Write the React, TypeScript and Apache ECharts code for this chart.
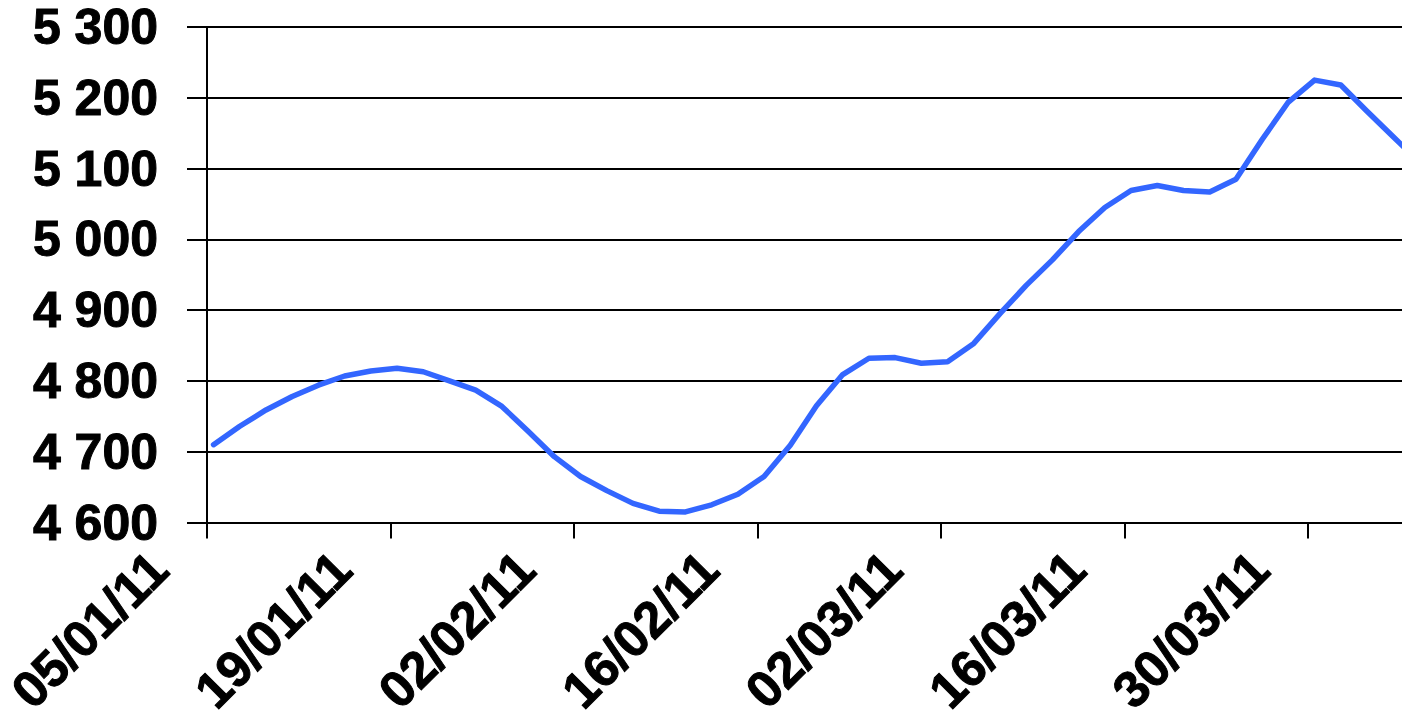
import React, { useEffect, useRef } from "react";
import * as echarts from "echarts";

const startDate = "2011-01-05";
const dates = [
  "2011-01-05", "2011-01-07", "2011-01-09", "2011-01-11", "2011-01-13", "2011-01-15",
  "2011-01-17", "2011-01-19", "2011-01-21", "2011-01-23", "2011-01-25", "2011-01-27",
  "2011-01-29", "2011-01-31", "2011-02-02", "2011-02-04", "2011-02-06", "2011-02-08",
  "2011-02-10", "2011-02-12", "2011-02-14", "2011-02-16", "2011-02-18", "2011-02-20",
  "2011-02-22", "2011-02-24", "2011-02-26", "2011-02-28", "2011-03-02", "2011-03-04",
  "2011-03-06", "2011-03-08", "2011-03-10", "2011-03-12", "2011-03-14", "2011-03-16",
  "2011-03-18", "2011-03-20", "2011-03-22", "2011-03-24", "2011-03-26", "2011-03-28",
  "2011-03-30", "2011-04-01", "2011-04-03", "2011-04-05", "2011-04-06",
];
const values = [
  4710, 4736, 4759, 4778, 4794, 4807,
  4814, 4818, 4813, 4800, 4787, 4764,
  4729, 4693, 4665, 4645, 4627, 4616,
  4615, 4625, 4640, 4665, 4709, 4765,
  4809, 4832, 4833, 4825, 4827, 4853,
  4895, 4935, 4971, 5011, 5045, 5069,
  5076, 5069, 5067, 5085, 5141, 5194,
  5225, 5218, 5181, 5145, 5127,
];
const yMin = 4600;
const yMax = 5300;
const yStep = 100;
const xTickDays = 14;
const xMaxDays = 91.17;

const DAY = 86400000;
const t0 = Date.parse(startDate + "T00:00:00Z");
const dayOffset = (d: string) => (Date.parse(d + "T00:00:00Z") - t0) / DAY + 0.5;
const pad2 = (n: number) => (n < 10 ? "0" + n : "" + n);
const fmtDate = (off: number) => {
  const dt = new Date(t0 + Math.round(off) * DAY);
  return pad2(dt.getUTCDate()) + "/" + pad2(dt.getUTCMonth() + 1) + "/" + pad2(dt.getUTCFullYear() % 100);
};
const fmtNum = (v: number) => {
  const s = String(Math.round(v));
  return s.replace(/\B(?=(\d{3})+(?!\d))/g, " ");
};

const FONT = "'Liberation Sans', Arial, Helvetica, sans-serif";

export default function App() {
  const ref = useRef<HTMLDivElement>(null);
  useEffect(() => {
    if (!ref.current) return;
    const chart = echarts.init(ref.current, null, { renderer: "svg" });
    chart.setOption({
      animation: false,
      backgroundColor: "#ffffff",
      grid: {
        left: 207,
        right: 0,
        top: 27,
        bottom: 198.5,
        containLabel: false,
        outerBoundsMode: "none",
      },
      xAxis: {
        type: "value",
        min: 0,
        max: xMaxDays,
        interval: xTickDays,
        splitLine: { show: false },
        axisLine: { show: true, onZero: false, lineStyle: { color: "#000", width: 2 } },
        axisTick: { show: true, length: 16, lineStyle: { color: "#000", width: 2 } },
        axisLabel: {
          show: true,
          rotate: 45,
          margin: -10,
          padding: [0, 68, 0, 0],
          showMaxLabel: false,
          hideOverlap: false,
          color: "#000",
          fontFamily: FONT,
          fontWeight: "bold",
          fontSize: 51,
          textBorderColor: "#000",
          textBorderWidth: 1,
          formatter: (v: number) => (Math.abs(v % xTickDays) < 1e-6 ? fmtDate(v) : ""),
        },
      },
      yAxis: {
        type: "value",
        min: yMin,
        max: yMax,
        interval: yStep,
        axisLine: { show: true, lineStyle: { color: "#000", width: 2 } },
        axisTick: { show: true, length: 20, lineStyle: { color: "#000", width: 2 } },
        splitLine: { show: true, lineStyle: { color: "#000", width: 2 } },
        axisLabel: {
          margin: 49,
          color: "#000",
          fontFamily: FONT,
          fontWeight: "bold",
          fontSize: 50,
          textBorderColor: "#000",
          textBorderWidth: 1,
          formatter: (v: number) => fmtNum(v),
        },
      },
      series: [
        {
          type: "line",
          data: dates.map((d, i) => [dayOffset(d), values[i]]),
          showSymbol: false,
          symbol: "none",
          clip: true,
          smooth: false,
          lineStyle: { color: "#3366FF", width: 5.5, cap: "round", join: "round" },
        },
      ],
    });
    return () => chart.dispose();
  }, []);
  return (
    <div
      ref={ref}
      style={{ position: "fixed", left: 0, top: 0, width: 1402, height: 721, background: "#fff" }}
    />
  );
}
